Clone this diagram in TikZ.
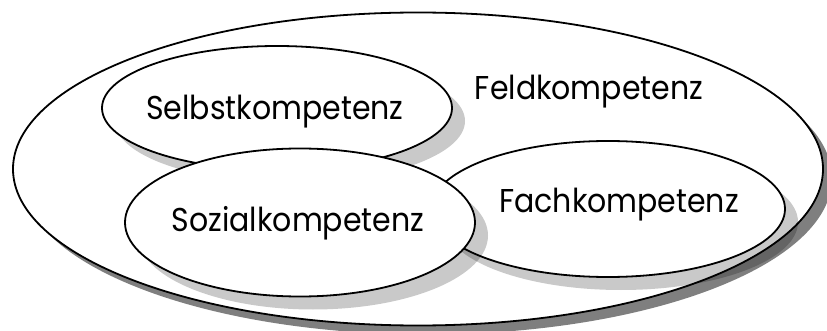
\documentclass[tikz,border=0pt]{standalone}
\usepackage{fontspec}
\setmainfont{Poppins}
\usetikzlibrary{shapes.geometric,shadows}

\newcommand{\tallword}[1]{\scalebox{1}[1.1]{#1}}

\tikzset{
  ring/.style={shape=ellipse, draw=black, line width=1.8pt, fill=white, inner sep=0pt},
  bigshadow/.style={drop shadow={shadow xshift=9pt, shadow yshift=-9pt, fill=black, opacity=0.5}},
  smallshadow/.style={drop shadow={shadow xshift=13pt, shadow yshift=-13pt, fill=black, opacity=0.21}},
  lbl/.style={font=\fontsize{30}{34}\selectfont, inner sep=0pt, anchor=base}
}

\begin{document}
\begin{tikzpicture}[x=1pt, y=-1pt]
  \useasboundingbox (0,0) rectangle (827,331);

  % outer field
  \node[ring, bigshadow, minimum width=810pt, minimum height=313pt] (feld) at (418,169) {};
  % inner competences, drawn back to front
  \node[ring, smallshadow, minimum width=350pt, minimum height=124pt] (sel) at (277,108) {};
  \node[ring, smallshadow, minimum width=354pt, minimum height=136pt] (fach) at (608,209) {};
  \node[ring, smallshadow, minimum width=350pt, minimum height=148pt] (soz) at (300,222.5) {};

  % labels
  \node[lbl] (tfeld) at (589,100) {\tallword{Feldkompetenz}};
  \node[lbl] (tsel) at (275,120) {\tallword{Selbstkompetenz}};
  \node[lbl] (tfach) at (619,213) {\tallword{Fachkompetenz}};
  \node[lbl] (tsoz) at (298,232) {\tallword{Sozialkompetenz}};
\end{tikzpicture}
\end{document}
